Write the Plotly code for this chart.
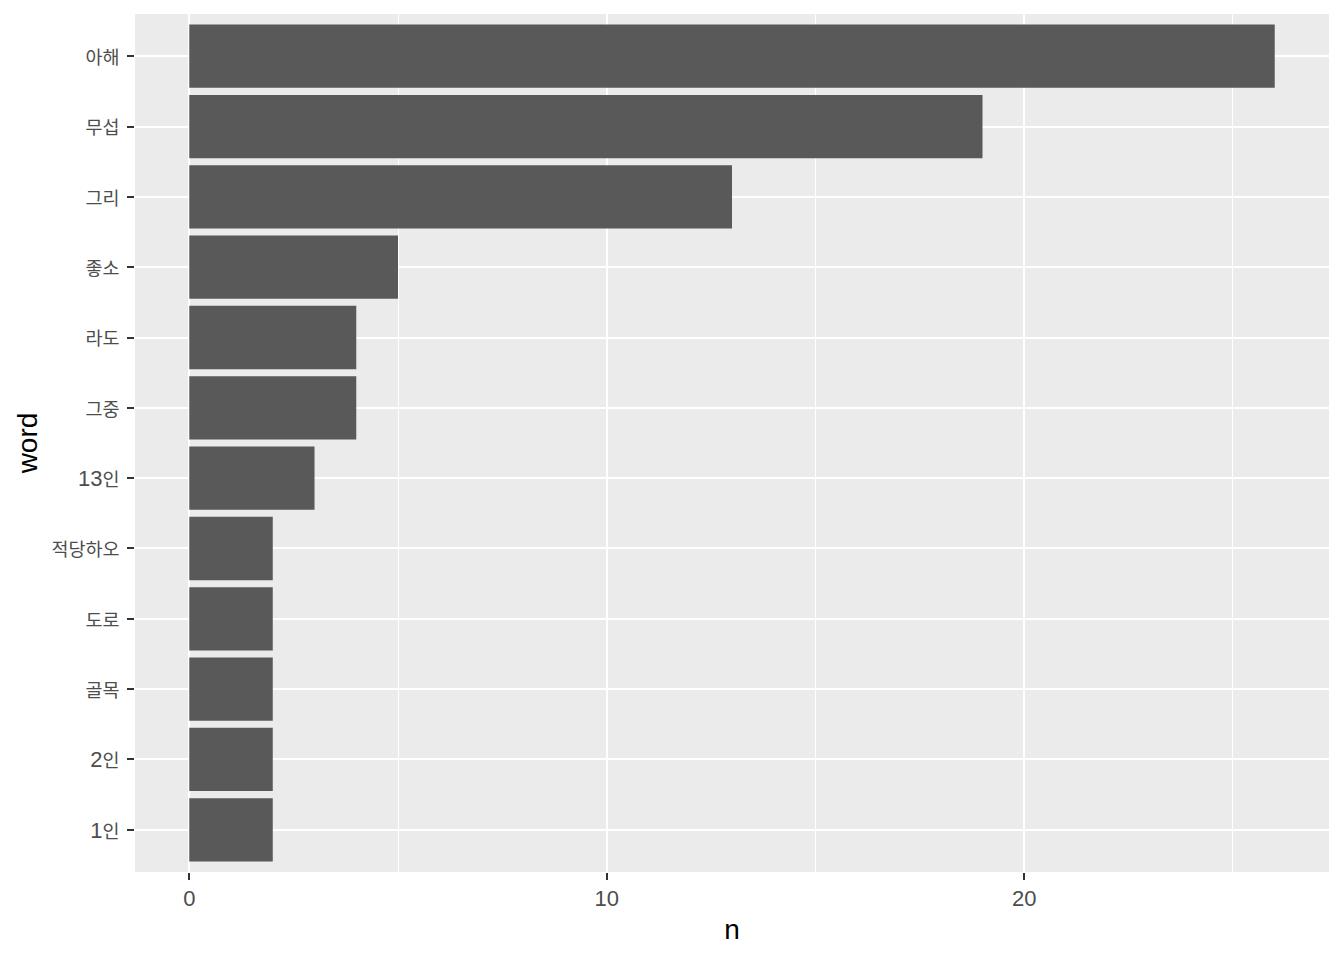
import re
import plotly.graph_objects as go

words = ["아해", "무섭", "그리", "좋소", "라도", "그중", "13인", "적당하오", "도로", "골목", "2인", "1인"]
counts = [26, 19, 13, 5, 4, 4, 3, 2, 2, 2, 2, 2]
x_ticks = [0, 10, 20]
x_minor = [5, 15, 25]


def fmt(label):
    # Hangul rendered a bit smaller than digits, as in the reference
    return re.sub(r"([\uac00-\ud7a3]+)", r"<span style='font-size:18.5px'>\1</span>", label)


order_bottom_up = list(reversed(words))

fig = go.Figure(go.Bar(
    x=counts, y=words, orientation="h",
    marker=dict(color="#595959", line=dict(width=0)),
    width=0.9,
))

fig.update_layout(
    width=1336, height=952,
    paper_bgcolor="white", plot_bgcolor="#EBEBEB",
    margin=dict(l=127, r=15, t=6, b=88),
    font=dict(family="Liberation Sans, Arial, Noto Sans CJK KR", color="#4D4D4D", size=22),
    showlegend=False,
)

fig.update_xaxes(
    range=[-1.3, 27.3], tickvals=x_ticks, ticktext=[str(v) for v in x_ticks],
    showgrid=True, gridcolor="white", gridwidth=2,
    minor=dict(tickvals=x_minor, showgrid=True, gridcolor="white", gridwidth=1, ticks=""),
    ticks="outside", ticklen=7, tickwidth=2, tickcolor="#333333",
    tickfont=dict(size=22, color="#4D4D4D"),
    zeroline=False, showline=False,
    title=dict(text="n", font=dict(size=28, color="black"), standoff=8),
)

fig.update_yaxes(
    type="category", categoryorder="array", categoryarray=order_bottom_up,
    range=[-0.6, 11.6],
    tickvals=order_bottom_up, ticktext=[fmt(w) for w in order_bottom_up],
    showgrid=True, gridcolor="white", gridwidth=2,
    ticks="outside", ticklen=7, tickwidth=2, tickcolor="#333333",
    tickfont=dict(size=22, color="#4D4D4D"),
    ticklabelstandoff=3,
    zeroline=False, showline=False,
    title=dict(text="word", font=dict(size=28, color="black"), standoff=5),
)

fig.write_html("out.html")
